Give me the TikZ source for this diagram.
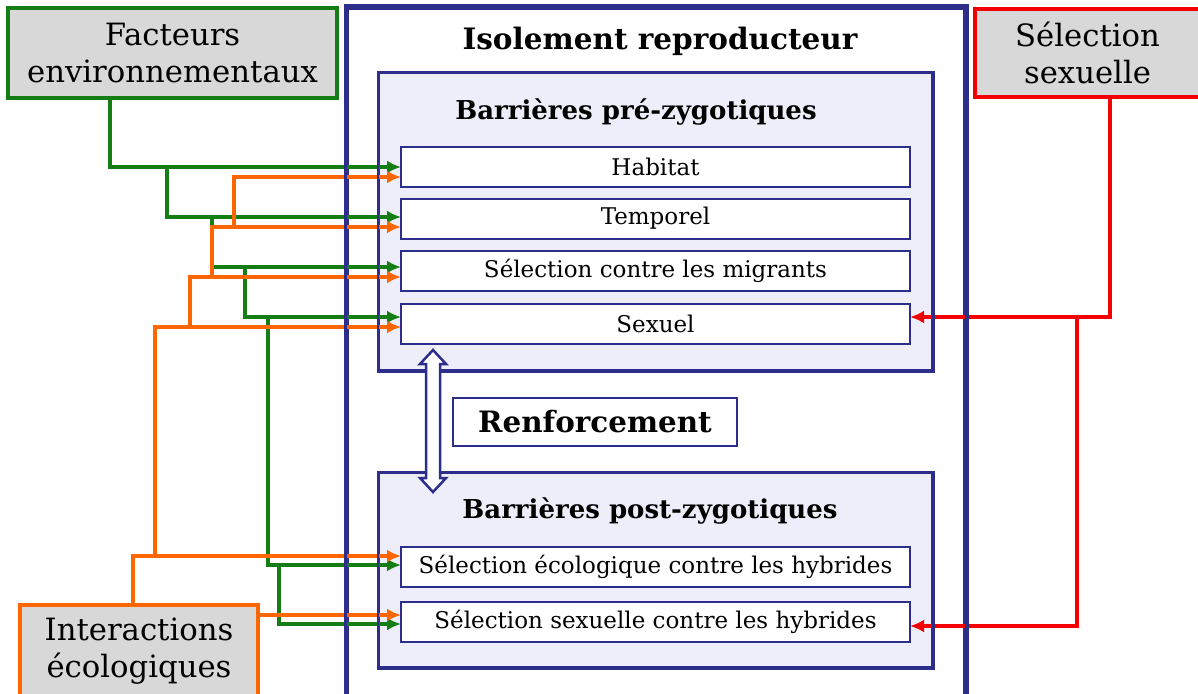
\documentclass[tikz,border=0pt]{standalone}
\usepackage{fontspec}
\setmainfont{DejaVu Serif}
\usetikzlibrary{arrows.meta}
\definecolor{cgreen}{RGB}{20,125,20}
\definecolor{corange}{RGB}{255,102,0}
\definecolor{cred}{RGB}{245,0,0}
\definecolor{cnavy}{RGB}{45,45,140}
\definecolor{cgray}{RGB}{216,216,216}
\definecolor{clav}{RGB}{238,238,250}
\begin{document}
\begin{tikzpicture}[x=1pt,y=-1pt,
  ext/.style={draw, line width=3.5pt, fill=cgray, align=center, inner sep=0pt,
    font=\fontsize{30.7}{37}\selectfont},
  zone/.style={fill=clav, draw=cnavy, line width=2.5pt, inner sep=0pt},
  zoneline/.style={draw=cnavy, line width=2.5pt},
  item/.style={fill=white, draw=cnavy, line width=2pt, inner sep=0pt,
    minimum width=509pt, minimum height=40pt, font=\fontsize{23}{27}\selectfont},
  ttl/.style={font=\bfseries\fontsize{26}{30}\selectfont, inner sep=0pt},
  link/.style={line width=3.5pt, -{Latex[length=14pt,width=13pt]}},
  gr/.style={link, draw=cgreen, color=cgreen},
  orr/.style={link, draw=corange, color=corange},
  rd/.style={link, draw=cred, color=cred}
]
\useasboundingbox (0,0) rectangle (1198,693);
\clip (0,0) rectangle (1198,693);

% outer and zone boxes (fills)
\node[fill=white, draw=cnavy, line width=3.5pt, minimum width=618pt, minimum height=712pt, inner sep=0pt] (outer) at (656,364) {};
\node[zone, minimum width=553pt, minimum height=297pt] (pre) at (655.5,221.5) {};
\node[zone, minimum width=553pt, minimum height=194pt] (post) at (655.5,570) {};

% external boxes
\node[ext, draw=cgreen, minimum width=329pt, minimum height=90pt] (fe) at (172.5,53) {Facteurs\\environnementaux};
\node[ext, draw=cred, minimum width=225pt, minimum height=88pt] (ss) at (1087.5,53) {Sélection\\sexuelle};
\node[ext, draw=corange, minimum width=238pt, minimum height=93pt] (ie) at (139,651.5) {Interactions\\écologiques};

% titles
\node[font=\bfseries\fontsize{29.5}{34}\selectfont, inner sep=0pt] (iso) at (660,41) {Isolement reproducteur};
\node[ttl] (tpre) at (636,112) {Barrières pré-zygotiques};
\node[ttl] (tpost) at (650,511) {Barrières post-zygotiques};

% connectors: green
\draw[gr] (fe.south -| 110,0) |- (401,167);
\draw[gr] (fe.south -| 110,0) |- (167,167) |- (401,217);
\draw[gr] (fe.south -| 110,0) |- (167,167) |- (212,217) |- (401,267);
\draw[gr] (fe.south -| 110,0) |- (167,167) |- (212,217) |- (245,267) |- (401,317);
\draw[gr] (fe.south -| 110,0) |- (167,167) |- (212,217) |- (245,267) |- (268,317) |- (401,565);
\draw[gr] (fe.south -| 110,0) |- (167,167) |- (212,217) |- (245,267) |- (268,317) |- (279,565) |- (401,624);

% connectors: orange
\draw[orr] (ie.north -| 133,0) |- (401,556);
\draw[orr] (ie.north -| 133,0) |- (155,556) |- (401,327);
\draw[orr] (ie.north -| 133,0) |- (155,556) |- (190,327) |- (401,277);
\draw[orr] (ie.north -| 133,0) |- (155,556) |- (190,327) |- (212,277) |- (401,227);
\draw[orr] (ie.north -| 133,0) |- (155,556) |- (190,327) |- (212,277) |- (234,227) |- (401,177);
\draw[orr] (ie.east |- 0,615) -- (401,615);

% connectors: red
\draw[rd] (ss.south -| 1110,0) |- (910,317);
\draw[rd] (ss.south -| 1110,0) |- (1077,317) |- (910,626);

% borders on top
\draw[draw=cnavy, line width=3.5pt] (outer.north west) rectangle (outer.south east);
\draw[zoneline] (pre.north west) rectangle (pre.south east);
\draw[zoneline] (post.north west) rectangle (post.south east);

% items
\node[item] (hab) at (655.5,167) {Habitat};
\node[item] (tem) at (655.5,218.5) {Temporel};
\node[item] (mig) at (655.5,271) {Sélection contre les migrants};
\node[item] (sex) at (655.5,324) {Sexuel};
\node[item] (eco) at (655.5,566.5) {Sélection écologique contre les hybrides};
\node[item] (shy) at (655.5,621.5) {Sélection sexuelle contre les hybrides};

% renforcement
\node[fill=white, draw=cnavy, line width=2.5pt, minimum width=284pt, minimum height=48pt, inner sep=0pt,
  font=\bfseries\fontsize{29.4}{34}\selectfont] (renf) at (595,422) {Renforcement};

% double arrow
\draw[cnavy, line width=2.5pt, fill=white, line join=miter]
  (433,350) -- (446,364) -- (440,364) -- (440,478) -- (446,478) -- (433,492)
  -- (420,478) -- (426,478) -- (426,364) -- (420,364) -- cycle;
\end{tikzpicture}
\end{document}
